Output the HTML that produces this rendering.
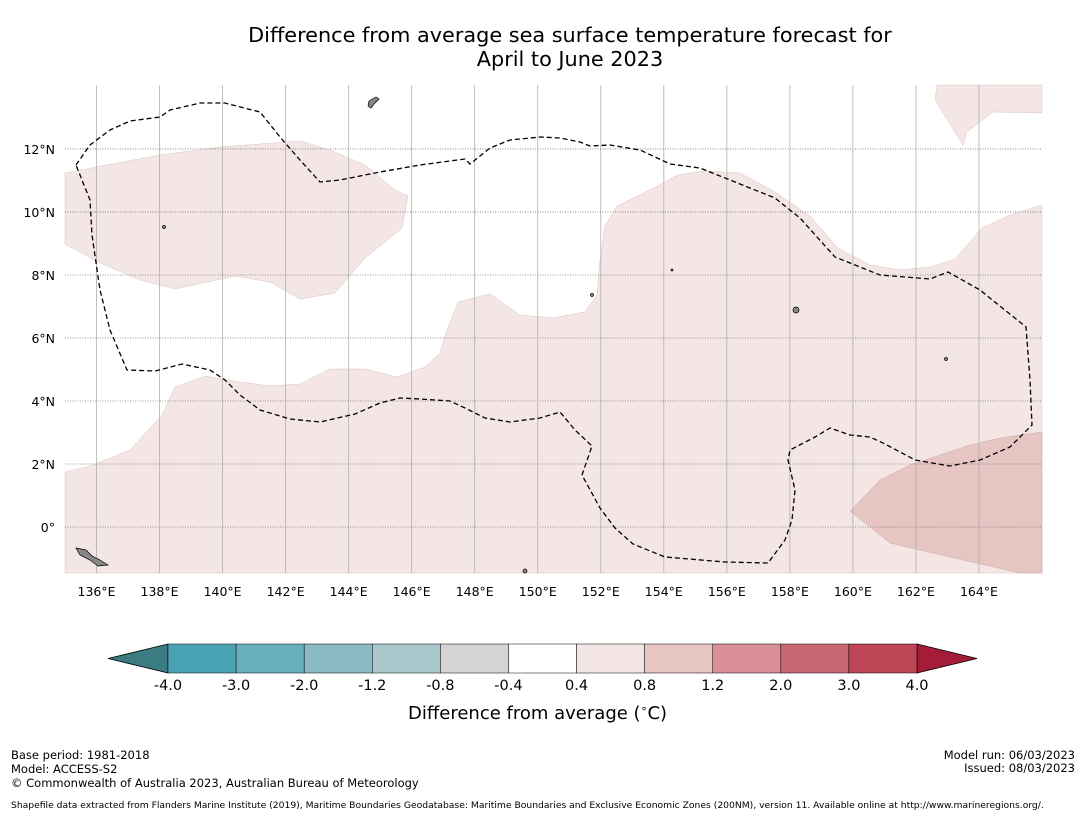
<!DOCTYPE html>
<html><head><meta charset="utf-8"><style>
body{margin:0;background:#fff;font-family:"DejaVu Sans","Liberation Sans",sans-serif}
#w{position:relative;width:1085px;height:816px;overflow:hidden}
.t{position:absolute;color:#000;white-space:nowrap}
</style></head><body><div id="w">
<div class="t" style="left:0;width:1140px;text-align:center;top:23px;font-size:20.8px;line-height:24px">Difference from average sea surface temperature forecast for<br>April to June 2023</div>
<svg id="s" width="1085" height="816" style="position:absolute;left:0;top:0">
<g id="map"></g>
<g id="cb"></g>
</svg>
<div class="t" style="left:408px;top:702px;font-size:18px">Difference from average (<sup style="font-size:11px">∘</sup>C)</div>
<div class="t" style="left:11px;top:748px;font-size:11.5px;line-height:14px">Base period: 1981-2018<br>Model: ACCESS-S2<br>© Commonwealth of Australia 2023, Australian Bureau of Meteorology</div>
<div class="t" style="right:10px;top:749px;font-size:11.5px;line-height:13px;text-align:right">Model run: 06/03/2023<br>Issued: 08/03/2023</div>
<div class="t" style="left:11px;top:800px;font-size:9.2px">Shapefile data extracted from Flanders Marine Institute (2019), Maritime Boundaries Geodatabase: Maritime Boundaries and Exclusive Economic Zones (200NM), version 11. Available online at http://www.marineregions.org/.</div>
</div>
<script>
const lonTicks=[136,138,140,142,144,146,148,150,152,154,156,158,160,162,164];
const latTicks=[0,2,4,6,8,10,12];
const cbBounds=[-4.0,-3.0,-2.0,-1.2,-0.8,-0.4,0.4,0.8,1.2,2.0,3.0,4.0];
const cbColors=["#4aa3b2","#6aafbd","#8ab8c4","#a9c8cc","#d4d4d4","#ffffff","#f4e6e5","#e6c5c2","#d88f96","#c86672","#bd4555"];
const NS='http://www.w3.org/2000/svg';
const FF='DejaVu Sans, Liberation Sans, sans-serif';
const L=65,R=1042,T=85,B=573,lon0=135,lon1=166,lat1=14.03,lat0=-1.46;
const X=lo=>L+(lo-lon0)/(lon1-lon0)*(R-L);
const Y=la=>T+(lat1-la)/(lat1-lat0)*(B-T);
function mk(tag,at,p){const e=document.createElementNS(NS,tag);for(const k in at)e.setAttribute(k,at[k]);p.appendChild(e);return e}
const map=document.getElementById('map');
const P=a=>'M'+a.map(p=>p.join(',')).join('L')+'Z';
let e;
e=mk('path',{d:P([[65,173],[160,155],[220,147],[300,141],[330,150],[365,165],[395,190],[408,196],[402,228],[365,258],[335,293],[300,299],[270,282],[235,276],[175,289],[140,280],[98,262],[65,244]]),fill:'#f4e6e5',stroke:'#d9c4c2','stroke-width':0.5},map);

e=mk('path',{d:P([[65,472],[90,466],[130,450],[162,415],[175,387],[205,376],[240,382],[270,386],[300,384],[330,369],[365,369],[397,377],[425,367],[440,353],[447,330],[458,302],[490,294],[520,315],[553,318],[585,312],[597,295],[600,260],[605,226],[617,206],[650,190],[678,175],[705,171],[740,173],[775,192],[810,216],[838,248],[870,265],[900,270],[930,267],[955,259],[982,228],[1010,215],[1042,205],[1042,573],[65,573]]),fill:'#f4e6e5',stroke:'#d9c4c2','stroke-width':0.5},map);

e=mk('path',{d:P([[937,85],[1042,85],[1042,113],[993,112],[967,132],[963,145],[935,100]]),fill:'#f4e6e5',stroke:'#d9c4c2','stroke-width':0.5},map);

e=mk('path',{d:P([[850,511],[880,480],[910,465],[940,455],[970,445],[1000,438],[1042,432],[1042,573],[1020,573],[950,557],[890,543]]),fill:'#e6c5c2',stroke:'#d0aaa6','stroke-width':0.5},map);

lonTicks.forEach(v=>{const x=X(v);
 e=mk('line',{x1:x,x2:x,y1:T,y2:B,stroke:'#b0b0b0','stroke-width':0.8},map);
 
 e=mk('text',{x:x,y:596,'text-anchor':'middle','font-size':12.5,'font-family':FF},map);e.textContent=v+'°E';
 });
latTicks.forEach(v=>{const y=Y(v);
 e=mk('line',{x1:L,x2:R,y1:y,y2:y,stroke:'#777','stroke-width':0.8,'stroke-dasharray':'1,1.5'},map);
 
 e=mk('text',{x:55,y:y+5,'text-anchor':'end','font-size':12.5,'font-family':FF},map);e.textContent=v===0?'0°':v+'°N';
 });
const eez=[[76,165],[90,145],[110,130],[130,121],[160,117],[170,110],[200,103],[225,103],[260,112],[280,137],[300,160],[320,182],[340,180],[380,172],[420,165],[465,159],[470,164],[490,148],[510,140],[540,137],[560,138],[580,142],[590,146],[610,145],[640,150],[670,164],[700,168],[730,180],[750,188],[775,198],[800,218],[835,257],[880,275],[930,279],[948,272],[980,290],[1026,327],[1030,380],[1032,425],[1010,447],[980,460],[950,466],[915,460],[885,444],[870,437],[850,435],[830,428],[815,437],[790,450],[788,460],[795,490],[792,520],[785,540],[768,563],[725,562],[665,557],[633,544],[615,528],[600,508],[582,475],[592,446],[575,430],[560,412],[540,418],[510,422],[485,418],[465,408],[450,401],[420,399],[400,398],[380,403],[355,414],[320,422],[290,419],[260,410],[240,395],[225,380],[210,370],[182,364],[155,371],[127,370],[110,330],[100,290],[92,235],[90,200]];
e=mk('path',{d:P(eez),fill:'none',stroke:'#000','stroke-width':1.3,'stroke-dasharray':'5,3'},map);

e=mk('path',{d:'M369,101L376,97L379,99L374,104L371,108L368,106Z',fill:'#888',stroke:'#000','stroke-width':0.7},map);

[[796,310,3],[164,227,1.5],[592,295,1.5],[946,359,1.5],[525,571,2],[672,270,1]].forEach(p=>{
 e=mk('circle',{cx:p[0],cy:p[1],r:p[2],fill:'#888',stroke:'#000','stroke-width':0.7},map);
 });
e=mk('path',{d:'M76,548L86,550L92,556L100,560L108,565L98,566L90,560L80,555Z',fill:'#888',stroke:'#000','stroke-width':0.7},map);

const cb=document.getElementById('cb');
const cL=168,cR=917,cT=644,cB=673,n=cbBounds.length-1,w=(cR-cL)/n;
e=mk('path',{d:`M${cL},${cT}L108,${(cT+cB)/2}L${cL},${cB}Z`,fill:'#3a7c82',stroke:'#000','stroke-width':0.8},cb);

e=mk('path',{d:`M${cR},${cT}L977,${(cT+cB)/2}L${cR},${cB}Z`,fill:'#a51c38',stroke:'#000','stroke-width':0.8},cb);

cbColors.forEach((c,i)=>{e=mk('rect',{x:cL+i*w,y:cT,width:w,height:cB-cT,fill:c,stroke:'#000','stroke-width':0.5},cb);
 });
cbBounds.forEach((v,i)=>{e=mk('text',{x:cL+i*w,y:690,'text-anchor':'middle','font-size':14.5,'font-family':FF},cb);e.textContent=v.toFixed(1);
 });
</script></body></html>
